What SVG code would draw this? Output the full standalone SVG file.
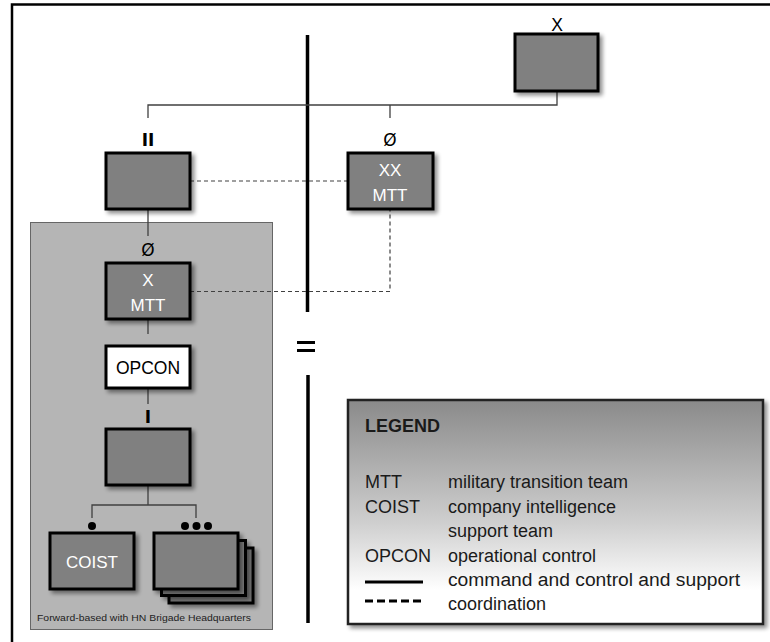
<svg xmlns="http://www.w3.org/2000/svg" width="770" height="642" viewBox="0 0 770 642">
<defs>
<filter id="sh" x="-20%" y="-20%" width="150%" height="150%">
<feGaussianBlur in="SourceAlpha" stdDeviation="2"/>
<feOffset dx="3" dy="3" result="b"/>
<feComponentTransfer><feFuncA type="linear" slope="0.45"/></feComponentTransfer>
<feMerge><feMergeNode/><feMergeNode in="SourceGraphic"/></feMerge>
</filter>
<linearGradient id="lg" x1="0" y1="0" x2="0" y2="1">
<stop offset="0" stop-color="#8a8a8a"/>
<stop offset="0.55" stop-color="#cfcfcf"/>
<stop offset="0.85" stop-color="#ffffff"/>
<stop offset="1" stop-color="#ffffff"/>
</linearGradient>
</defs>
<style>
.box{fill:#808080;stroke:#000;stroke-width:3;filter:url(#sh)}
.wbox{fill:#fff;stroke:#000;stroke-width:3;filter:url(#sh)}
.ln{stroke:#404040;stroke-width:1.3;fill:none}
.ds{stroke:#404040;stroke-width:1.2;stroke-dasharray:4 3;fill:none}
.wt{font-family:"Liberation Sans",Arial,sans-serif;font-size:17px;fill:#fff;text-anchor:middle}
.bt{font-family:"Liberation Sans",Arial,sans-serif;font-size:17.5px;fill:#000;text-anchor:middle}
.sym{font-family:"DejaVu Sans",sans-serif;font-size:17px;fill:#000;text-anchor:middle}
.lg{font-family:"Liberation Sans",Arial,sans-serif;font-size:18px;fill:#1a1a1a}
</style>
<rect x="0" y="0" width="770" height="642" fill="#fff"/>
<!-- frame -->
<path d="M12 642 V4.5 H770" fill="none" stroke="#000" stroke-width="2.5"/>
<g id="divider">
<line x1="307.5" y1="35" x2="307.5" y2="312" stroke="#000" stroke-width="3.5"/>
<line x1="297" y1="342.5" x2="315" y2="342.5" stroke="#000" stroke-width="3"/>
<line x1="297" y1="350.5" x2="315" y2="350.5" stroke="#000" stroke-width="3"/>
<line x1="308" y1="375" x2="308" y2="623" stroke="#000" stroke-width="3.5"/>
</g>
<g id="container">
<rect x="30.5" y="222.5" width="242" height="407" fill="#b5b5b5" stroke="#666" stroke-width="1"/>
<text x="37" y="621" font-family="'Liberation Sans',Arial,sans-serif" font-size="9.5" fill="#222" textLength="214" lengthAdjust="spacingAndGlyphs">Forward-based with HN Brigade Headquarters</text>
</g>
<g id="connectors">
<path class="ln" d="M557 91 V105 H148 V118"/>
<path class="ln" d="M390 105 V118"/>
<path class="ln" d="M148 209 V236"/>
<path class="ln" d="M148 319 V334"/>
<path class="ln" d="M148 388 V404"/>
<path class="ln" d="M148 485 V505 M92 518 V505 H196 V518"/>
<path class="ds" d="M190 181 H348"/>
<path class="ds" d="M190 291.5 H390 V209"/>
</g>
<g id="node-top">
<rect class="box" x="515" y="34" width="83" height="57"/>
<text x="557" y="31" class="bt" font-size="17">X</text>
</g>
<g id="node-bn">
<rect class="box" x="106" y="153" width="84" height="56"/>
<text x="148" y="146" class="sym" font-weight="bold">II</text>
</g>
<g id="node-xxmtt">
<rect class="box" x="348" y="153" width="85" height="56"/>
<text x="390" y="146" class="sym">Ø</text>
<text x="390" y="176" class="wt">XX</text>
<text x="390" y="201" class="wt">MTT</text>
</g>
<g id="node-xmtt">
<rect class="box" x="106" y="263" width="84" height="56"/>
<text x="148" y="256" class="sym">Ø</text>
<text x="148" y="286" class="wt">X</text>
<text x="148" y="311" class="wt">MTT</text>
</g>
<g id="node-opcon">
<rect class="wbox" x="106" y="346" width="84" height="42"/>
<text x="148" y="374" class="bt">OPCON</text>
</g>
<g id="node-co">
<rect class="box" x="106" y="429" width="84" height="56"/>
<text x="148" y="423" class="sym" font-weight="bold">I</text>
</g>
<g id="node-coist">
<circle cx="92" cy="526" r="4" fill="#000"/>
<rect class="box" x="50" y="533" width="84" height="56"/>
<text x="92" y="568" class="wt" font-size="17.5">COIST</text>
</g>
<g id="node-platoons">
<circle cx="185" cy="526" r="4" fill="#000"/>
<circle cx="196.5" cy="526" r="4" fill="#000"/>
<circle cx="208" cy="526" r="4" fill="#000"/>
<rect class="box" x="169" y="548" width="84" height="55"/>
<rect class="box" x="161.5" y="540.5" width="84" height="55"/>
<rect class="box" x="154" y="533" width="84" height="56"/>
</g>
<g id="legend">
<rect x="348" y="400" width="415" height="224" fill="url(#lg)" stroke="#222" stroke-width="2.5" filter="url(#sh)"/>
<text x="365" y="432" class="lg" font-weight="bold" font-size="16.5">LEGEND</text>
<text x="365" y="488" class="lg">MTT</text>
<text x="448" y="488" class="lg">military transition team</text>
<text x="365" y="513" class="lg">COIST</text>
<text x="448" y="513" class="lg">company intelligence</text>
<text x="448" y="537" class="lg">support team</text>
<text x="365" y="562" class="lg">OPCON</text>
<text x="448" y="562" class="lg">operational control</text>
<line x1="365" y1="582" x2="423" y2="582" stroke="#000" stroke-width="3"/>
<text x="448" y="586" class="lg" textLength="292" lengthAdjust="spacingAndGlyphs">command and control and support</text>
<line x1="365" y1="601" x2="423" y2="601" stroke="#000" stroke-width="3" stroke-dasharray="8 4"/>
<text x="448" y="610" class="lg">coordination</text>
</g>
</svg>
